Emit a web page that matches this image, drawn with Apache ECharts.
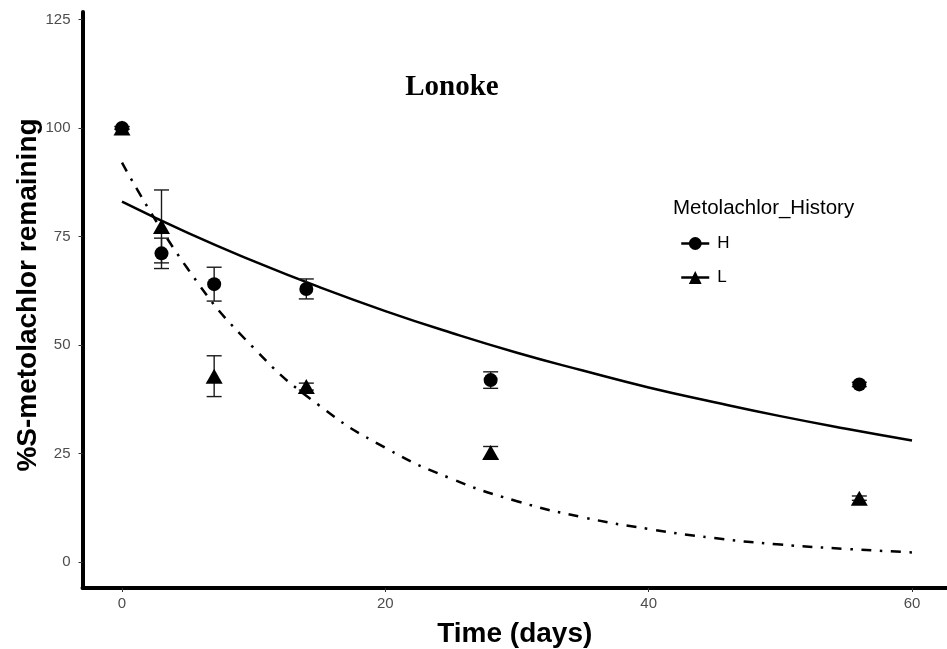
<!DOCTYPE html>
<html>
<head>
<meta charset="utf-8">
<script src="https://cdn.jsdelivr.net/npm/echarts@6/dist/echarts.min.js"></script>
<style>
  html, body { margin: 0; padding: 0; background: #fff; }
  #chart { width: 947px; height: 649px; }
</style>
</head>
<body>
<div id="chart"></div>
<script>
  // measured points (mean and error bar half-width)
  const days = [0, 3, 7, 14, 28, 56];
  const hMean = [100, 71.1, 64.0, 62.9, 41.9, 40.9];
  const hErr = [0.3, 3.5, 3.9, 2.3, 1.9, 0.5];
  const lMean = [100, 77.3, 42.8, 40.4, 25.2, 14.7];
  const lErr = [0.3, 8.4, 4.7, 0.8, 1.4, 0.5];

  // fitted curves
  const fitDays = [0, 5, 10, 15, 20, 25, 30, 35, 40, 45, 50, 55, 60];
  const hFit = [83.0, 75.8, 69.3, 63.3, 57.8, 52.8, 48.2, 44.1, 40.2, 36.8, 33.6, 30.7, 28.0];
  const lFit = [92.0, 67.5, 49.3, 36.0, 26.3, 19.2, 14.0, 10.3, 7.6, 5.5, 4.0, 3.0, 2.2];

  const xTicks = [0, 20, 40, 60];
  const yTicks = [0, 25, 50, 75, 100, 125];

  const chart = echarts.init(document.getElementById('chart'));

  const pairs = (xs, ys) => xs.map((x, i) => [x, ys[i]]);
  const errRows = (m, e) => days.map((d, i) => [d, m[i] - e[i], m[i] + e[i]]);

  const errorBar = (params, api) => {
    const x = api.value(0);
    const lo = api.coord([x, api.value(1)]);
    const hi = api.coord([x, api.value(2)]);
    const w = 7.5;
    const style = { stroke: '#1a1a1a', lineWidth: 1.4 };
    return {
      type: 'group',
      children: [
        { type: 'line', shape: { x1: lo[0], y1: lo[1], x2: hi[0], y2: hi[1] }, style },
        { type: 'line', shape: { x1: lo[0] - w, y1: lo[1], x2: lo[0] + w, y2: lo[1] }, style },
        { type: 'line', shape: { x1: hi[0] - w, y1: hi[1], x2: hi[0] + w, y2: hi[1] }, style }
      ]
    };
  };

  const option = {
    animation: false,
    title: [
      {
        text: 'Lonoke',
        left: 447,
        top: 68,
        textAlign: 'center',
        textStyle: { fontFamily: 'Liberation Serif', fontWeight: 'bold', fontSize: 29, color: '#000' }
      },
      {
        text: 'Metolachlor_History',
        left: 668,
        top: 193,
        textStyle: { fontFamily: 'Liberation Sans', fontWeight: 'normal', fontSize: 20.5, color: '#000' }
      }
    ],
    legend: {
      data: ['H', 'L'],
      orient: 'vertical',
      left: 675,
      top: 230,
      itemWidth: 28,
      itemHeight: 16,
      itemGap: 17,
      lineStyle: { type: 'solid', width: 2.5, color: '#000' },
      textStyle: { fontFamily: 'Liberation Sans', fontSize: 17, color: '#000', padding: [0, 0, 0, 3] }
    },
    grid: { left: 82.5, right: 0, top: 12, bottom: 61, outerBoundsMode: 'none' },
    xAxis: {
      type: 'value',
      min: -3,
      max: 62.66,
      name: 'Time (days)',
      nameLocation: 'middle',
      nameGap: 32,
      nameMoveOverlap: false,
      nameTextStyle: { fontFamily: 'Liberation Sans', fontWeight: 'bold', fontSize: 28, color: '#000' },
      axisLine: { onZero: false, lineStyle: { color: '#000', width: 4 } },
      axisTick: { customValues: xTicks, length: 4, lineStyle: { color: '#333', width: 1 } },
      axisLabel: { customValues: xTicks, margin: 8, fontFamily: 'Liberation Sans', fontSize: 15, color: '#4d4d4d' },
      splitLine: { show: false }
    },
    yAxis: {
      type: 'value',
      min: -6,
      max: 126.7,
      name: '%S-metolachlor remaining',
      nameLocation: 'middle',
      nameGap: 40,
      nameMoveOverlap: false,
      nameTextStyle: { fontFamily: 'Liberation Sans', fontWeight: 'bold', fontSize: 28, color: '#000', padding: [0, 0, 0, 10] },
      axisLine: { show: true, onZero: false, lineStyle: { color: '#000', width: 4 } },
      axisTick: { show: true, customValues: yTicks, length: 4, lineStyle: { color: '#333', width: 1 } },
      axisLabel: { customValues: yTicks, margin: 12, fontFamily: 'Liberation Sans', fontSize: 15, color: '#4d4d4d' },
      splitLine: { show: false }
    },
    series: [
      {
        name: 'H',
        type: 'line',
        data: pairs(fitDays, hFit),
        smooth: true,
        showSymbol: false,
        symbol: 'circle',
        symbolSize: 13,
        itemStyle: { color: '#000' },
        lineStyle: { color: '#000', width: 2.5 },
        z: 2
      },
      {
        name: 'L',
        type: 'line',
        data: pairs(fitDays, lFit),
        smooth: true,
        showSymbol: false,
        symbol: 'triangle',
        symbolSize: [16, 14],
        itemStyle: { color: '#000' },
        lineStyle: { color: '#000', width: 2.5, type: [10, 8.5, 2.5, 8.5] },
        z: 2
      },
      {
        name: 'H',
        type: 'custom',
        renderItem: errorBar,
        data: errRows(hMean, hErr),
        z: 3
      },
      {
        name: 'L',
        type: 'custom',
        renderItem: errorBar,
        data: errRows(lMean, lErr),
        z: 3
      },
      {
        name: 'H',
        type: 'scatter',
        data: pairs(days, hMean),
        symbol: 'circle',
        symbolSize: 14,
        itemStyle: { color: '#000', opacity: 1 },
        z: 4
      },
      {
        name: 'L',
        type: 'scatter',
        data: pairs(days, lMean),
        symbol: 'triangle',
        symbolSize: [17, 15],
        itemStyle: { color: '#000', opacity: 1 },
        z: 4
      }
    ]
  };

  chart.setOption(option);
</script>
</body>
</html>
